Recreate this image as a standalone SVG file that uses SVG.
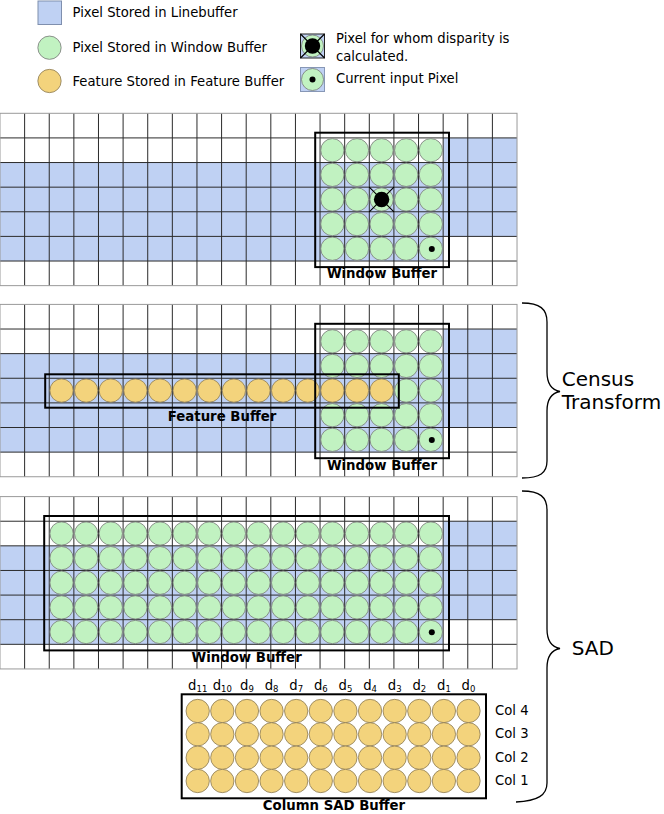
<svg xmlns="http://www.w3.org/2000/svg" xmlns:xlink="http://www.w3.org/1999/xlink" width="664" height="814" viewBox="0 0 664 814">
<style>
.bl{fill:#bfd1f3}
.gr{fill:#c1f2c1;stroke:#777;stroke-width:0.8}
.ye{fill:#f3d37c;stroke:#8a7a55;stroke-width:0.8}
.gl{stroke:#2b2b2b;stroke-width:1;fill:none}
.go{stroke:#9a9a9a;stroke-width:1;fill:none}
.box{fill:none;stroke:#000;stroke-width:2}
.lab{font-family:"DejaVu Sans",Verdana,sans-serif;font-weight:bold;font-size:13.3px;text-anchor:middle;fill:#000}
.t{font-family:"DejaVu Sans",Verdana,sans-serif;font-size:13.2px;fill:#000}
.big{font-family:"DejaVu Sans",Verdana,sans-serif;font-size:20px;fill:#000}
.br{fill:none;stroke:#000;stroke-width:1.3}
.dot{fill:#000}
.xl{stroke:#000;stroke-width:1.1}
</style>
<defs>
<circle id="gc" r="11.65" class="gr"/>
<circle id="yc" r="11.65" class="ye"/>
<g id="grid">
<rect class="bl" x="443.16" y="24.62" width="73.86" height="24.62"/>
<rect class="bl" x="0" y="49.24" width="517.02" height="73.86"/>
<rect class="bl" x="0" y="123.1" width="443.16" height="24.62"/>
<path class="gl" d="M24.62,0V172.34M49.24,0V172.34M73.86,0V172.34M98.48,0V172.34M123.1,0V172.34M147.72,0V172.34M172.34,0V172.34M196.96,0V172.34M221.58,0V172.34M246.2,0V172.34M270.82,0V172.34M295.44,0V172.34M320.06,0V172.34M344.68,0V172.34M369.3,0V172.34M393.92,0V172.34M418.54,0V172.34M443.16,0V172.34M467.78,0V172.34M492.4,0V172.34M0,24.62H517.02M0,49.24H517.02M0,73.86H517.02M0,98.48H517.02M0,123.1H517.02M0,147.72H517.02"/>
<rect class="go" x="0" y="0" width="517.02" height="172.34"/>
</g>
<g id="win5">
<use xlink:href="#gc" href="#gc" x="332.37"/>
<use xlink:href="#gc" href="#gc" x="356.99"/>
<use xlink:href="#gc" href="#gc" x="381.61"/>
<use xlink:href="#gc" href="#gc" x="406.23"/>
<use xlink:href="#gc" href="#gc" x="430.85"/>
</g>
<g id="win16">
<use xlink:href="#gc" href="#gc" x="61.55"/>
<use xlink:href="#gc" href="#gc" x="86.17"/>
<use xlink:href="#gc" href="#gc" x="110.79"/>
<use xlink:href="#gc" href="#gc" x="135.41"/>
<use xlink:href="#gc" href="#gc" x="160.03"/>
<use xlink:href="#gc" href="#gc" x="184.65"/>
<use xlink:href="#gc" href="#gc" x="209.27"/>
<use xlink:href="#gc" href="#gc" x="233.89"/>
<use xlink:href="#gc" href="#gc" x="258.51"/>
<use xlink:href="#gc" href="#gc" x="283.13"/>
<use xlink:href="#gc" href="#gc" x="307.75"/>
<use xlink:href="#gc" href="#gc" x="332.37"/>
<use xlink:href="#gc" href="#gc" x="356.99"/>
<use xlink:href="#gc" href="#gc" x="381.61"/>
<use xlink:href="#gc" href="#gc" x="406.23"/>
<use xlink:href="#gc" href="#gc" x="430.85"/>
</g>
<g id="sadrow">
<use xlink:href="#yc" href="#yc" x="197.7"/>
<use xlink:href="#yc" href="#yc" x="222.32"/>
<use xlink:href="#yc" href="#yc" x="246.94"/>
<use xlink:href="#yc" href="#yc" x="271.56"/>
<use xlink:href="#yc" href="#yc" x="296.18"/>
<use xlink:href="#yc" href="#yc" x="320.8"/>
<use xlink:href="#yc" href="#yc" x="345.42"/>
<use xlink:href="#yc" href="#yc" x="370.04"/>
<use xlink:href="#yc" href="#yc" x="394.66"/>
<use xlink:href="#yc" href="#yc" x="419.28"/>
<use xlink:href="#yc" href="#yc" x="443.9"/>
<use xlink:href="#yc" href="#yc" x="468.52"/>
</g>
</defs>

<g id="legend">
<g id="leg-linebuffer">
<rect x="38" y="1" width="23.5" height="23.5" fill="#bfd1f3" stroke="#7f8fae" stroke-width="1"/>
<text class="t" x="72.5" y="17.3">Pixel Stored in Linebuffer</text>
</g>
<g id="leg-window">
<circle cx="49.5" cy="47.7" r="11.65" class="gr"/>
<text class="t" x="72.5" y="52.3">Pixel Stored in Window Buffer</text>
</g>
<g id="leg-feature">
<circle cx="49.5" cy="81" r="11.65" class="ye"/>
<text class="t" x="72.5" y="85.7">Feature Stored in Feature Buffer</text>
</g>
<g id="leg-disparity">
<rect x="300.5" y="34" width="24" height="24" fill="#bfd1f3" stroke="#222" stroke-width="1"/>
<circle cx="312.5" cy="46" r="11" class="gr"/>
<path class="xl" d="M300.5,34L324.5,58M324.5,34L300.5,58"/>
<circle cx="312.5" cy="46" r="7.7" class="dot"/>
<text class="t" x="336" y="42.7">Pixel for whom disparity is</text>
<text class="t" x="336" y="61">calculated.</text>
</g>
<g id="leg-current">
<rect x="300.5" y="67.5" width="24" height="24" fill="#bfd1f3" stroke="#8797b6" stroke-width="1"/>
<circle cx="312.5" cy="79.5" r="11" class="gr"/>
<circle cx="312.5" cy="79.5" r="3" class="dot"/>
<text class="t" x="336" y="83.3">Current input Pixel</text>
</g>
</g>

<g id="panel1" transform="translate(0,113.3)">
<use xlink:href="#grid" href="#grid"/>
<use xlink:href="#win5" href="#win5" y="36.93"/>
<use xlink:href="#win5" href="#win5" y="61.55"/>
<use xlink:href="#win5" href="#win5" y="86.17"/>
<use xlink:href="#win5" href="#win5" y="110.79"/>
<use xlink:href="#win5" href="#win5" y="135.41"/>
<path class="xl" d="M369.3,73.86L393.92,98.48M393.92,73.86L369.3,98.48"/>
<circle cx="381.61" cy="86.17" r="7.7" class="dot"/>
<circle cx="431.8" cy="135.6" r="3" class="dot"/>
<rect class="box" x="315.2" y="19.4" width="133.8" height="134.4"/>
<text class="lab" x="382" y="165.2">Window Buffer</text>
</g>

<g id="panel2" transform="translate(0,304.4)">
<use xlink:href="#grid" href="#grid"/>
<use xlink:href="#win5" href="#win5" y="36.93"/>
<use xlink:href="#win5" href="#win5" y="61.55"/>
<use xlink:href="#gc" href="#gc" x="406.23" y="86.17"/>
<use xlink:href="#gc" href="#gc" x="430.85" y="86.17"/>
<use xlink:href="#win5" href="#win5" y="110.79"/>
<use xlink:href="#win5" href="#win5" y="135.41"/>
<g id="feature-row">
<use xlink:href="#yc" href="#yc" x="61.55" y="86.17"/>
<use xlink:href="#yc" href="#yc" x="86.17" y="86.17"/>
<use xlink:href="#yc" href="#yc" x="110.79" y="86.17"/>
<use xlink:href="#yc" href="#yc" x="135.41" y="86.17"/>
<use xlink:href="#yc" href="#yc" x="160.03" y="86.17"/>
<use xlink:href="#yc" href="#yc" x="184.65" y="86.17"/>
<use xlink:href="#yc" href="#yc" x="209.27" y="86.17"/>
<use xlink:href="#yc" href="#yc" x="233.89" y="86.17"/>
<use xlink:href="#yc" href="#yc" x="258.51" y="86.17"/>
<use xlink:href="#yc" href="#yc" x="283.13" y="86.17"/>
<use xlink:href="#yc" href="#yc" x="307.75" y="86.17"/>
<use xlink:href="#yc" href="#yc" x="332.37" y="86.17"/>
<use xlink:href="#yc" href="#yc" x="356.99" y="86.17"/>
<use xlink:href="#yc" href="#yc" x="381.61" y="86.17"/>
</g>
<circle cx="431.8" cy="135.6" r="3" class="dot"/>
<rect class="box" x="45.2" y="69.9" width="353.6" height="33.4"/>
<rect class="box" x="315.2" y="19.4" width="133.8" height="134.4"/>
<text class="lab" x="222" y="116.3">Feature Buffer</text>
<text class="lab" x="382" y="165.2">Window Buffer</text>
</g>

<g id="panel3" transform="translate(0,496.6)">
<use xlink:href="#grid" href="#grid"/>
<use xlink:href="#win16" href="#win16" y="36.93"/>
<use xlink:href="#win16" href="#win16" y="61.55"/>
<use xlink:href="#win16" href="#win16" y="86.17"/>
<use xlink:href="#win16" href="#win16" y="110.79"/>
<use xlink:href="#win16" href="#win16" y="135.41"/>
<circle cx="431.8" cy="135.6" r="3" class="dot"/>
<rect class="box" x="44.2" y="19.4" width="404.8" height="134.4"/>
<text class="lab" x="246.6" y="165.2">Window Buffer</text>
</g>

<g id="column-sad-buffer">
<g id="d-labels" class="t" text-anchor="middle">
<text x="197.7" y="690">d<tspan font-size="8.5" dy="1.5">11</tspan></text>
<text x="222.32" y="690">d<tspan font-size="8.5" dy="1.5">10</tspan></text>
<text x="246.94" y="690">d<tspan font-size="8.5" dy="1.5">9</tspan></text>
<text x="271.56" y="690">d<tspan font-size="8.5" dy="1.5">8</tspan></text>
<text x="296.18" y="690">d<tspan font-size="8.5" dy="1.5">7</tspan></text>
<text x="320.8" y="690">d<tspan font-size="8.5" dy="1.5">6</tspan></text>
<text x="345.42" y="690">d<tspan font-size="8.5" dy="1.5">5</tspan></text>
<text x="370.04" y="690">d<tspan font-size="8.5" dy="1.5">4</tspan></text>
<text x="394.66" y="690">d<tspan font-size="8.5" dy="1.5">3</tspan></text>
<text x="419.28" y="690">d<tspan font-size="8.5" dy="1.5">2</tspan></text>
<text x="443.9" y="690">d<tspan font-size="8.5" dy="1.5">1</tspan></text>
<text x="468.52" y="690">d<tspan font-size="8.5" dy="1.5">0</tspan></text>
</g>
<use xlink:href="#sadrow" href="#sadrow" y="711"/>
<use xlink:href="#sadrow" href="#sadrow" y="734.3"/>
<use xlink:href="#sadrow" href="#sadrow" y="757.7"/>
<use xlink:href="#sadrow" href="#sadrow" y="781"/>
<rect class="box" x="181.7" y="694.3" width="304.3" height="104"/>
<text class="t" x="495" y="715">Col 4</text>
<text class="t" x="495" y="738.3">Col 3</text>
<text class="t" x="495" y="761.7">Col 2</text>
<text class="t" x="495" y="785">Col 1</text>
<text class="lab" x="334" y="810">Column SAD Buffer</text>
</g>

<g id="connectors">
<path id="brace-census" class="br" d="M522,303C540,303 547,309 547,322L547,372C547,384 552,390 560,391.5C552,393 547,399 547,411L547,461C547,473 540,478 522,478"/>
<path id="brace-sad" class="br" d="M522,491C540,491 547,497 547,510L547,629C547,641 552,647 560,648.5C552,650 547,656 547,668L547,783C547,795 538,801 516,802"/>
</g>
<text class="big" x="561.7" y="385.5">Census</text>
<text class="big" x="561.7" y="409">Transform</text>
<text class="big" x="571.7" y="655">SAD</text>
</svg>
